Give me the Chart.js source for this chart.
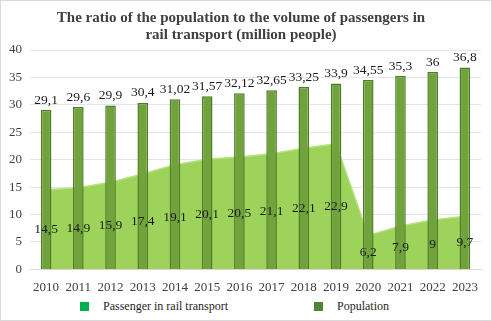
<!DOCTYPE html>
<html>
<head>
<meta charset="utf-8">
<script src="https://cdn.jsdelivr.net/npm/chart.js@4"></script>
<style>
  html, body { margin: 0; padding: 0; background: #fff; }
  #wrap { position: relative; width: 490px; height: 319px; border: 1px solid #d9d9d9; }
  #legend { position: absolute; left: 0; top: 298px; width: 490px; height: 16px;
            font: 12px "Times New Roman", "Liberation Serif", "DejaVu Serif", serif; color: #262626; }
  .item { position: absolute; top: 0; display: flex; align-items: center; }
  .box { width: 9px; height: 9px; margin-right: 14px; }
</style>
</head>
<body>
<div id="wrap">
  <canvas id="chart" width="490" height="296"></canvas>
  <div id="legend">
    <div class="item" style="left:79px"><span class="box" style="background:#00b050"></span>Passenger in rail transport</div>
    <div class="item" style="left:313px"><span class="box" style="background:#548235"></span>Population</div>
  </div>
</div>
<script>
const years = ['2010', '2011', '2012', '2013', '2014', '2015', '2016', '2017', '2018', '2019', '2020', '2021', '2022', '2023'];
const passengers = [14.5, 14.9, 15.9, 17.4, 19.1, 20.1, 20.5, 21.1, 22.1, 22.9, 6.2, 7.9, 9, 9.7];
const population = [29.1, 29.6, 29.9, 30.4, 31.02, 31.57, 32.12, 32.65, 33.25, 33.9, 34.55, 35.3, 36, 36.8];

const serif = '"Times New Roman", "Liberation Serif", "DejaVu Serif", serif';

// comma decimals like the original
const fmt = v => String(v).replace('.', ',');

// draws value labels: population above bars, passengers in the middle of the area
const valueLabels = {
    id: 'valueLabels',
    afterDatasetsDraw(chart) {
        const ctx = chart.ctx;
        const y = chart.scales.y;
        ctx.save();
        ctx.font = '13.5px ' + serif;
        ctx.fillStyle = '#1a1a1a';
        ctx.textAlign = 'center';
        chart.getDatasetMeta(1).data.forEach((bar, i) => {
            ctx.textBaseline = 'bottom';
            ctx.fillText(fmt(population[i]), bar.x, bar.y - 3);
        });
        chart.getDatasetMeta(0).data.forEach((pt, i) => {
            ctx.textBaseline = 'middle';
            ctx.fillText(fmt(passengers[i]), pt.x, y.getPixelForValue(passengers[i] / 2));
        });
        ctx.restore();
    }
};

new Chart(document.getElementById('chart'), {
    type: 'bar',
    data: {
        labels: years,
        datasets: [{
            type: 'line',
            label: 'Passenger in rail transport',
            data: passengers,
            fill: 'origin',
            backgroundColor: '#9dd35a',
            borderColor: '#b5e27a',
            borderWidth: 1.5,
            pointRadius: 0,
            tension: 0,
            order: 2
        }, {
            label: 'Population',
            data: population,
            backgroundColor: '#71a33d',
            borderColor: '#4f7d2a',
            borderWidth: 1.5,
            barPercentage: 0.6,
            categoryPercentage: 0.55,
            order: 1
        }]
    },
    options: {
        responsive: false,
        animation: false,
        layout: { padding: { left: 0, right: 10, top: 5, bottom: 0 } },
        plugins: {
            legend: { display: false },
            tooltip: { enabled: false },
            title: {
                display: true,
                text: ['The ratio of the population to the volume of passengers in', 'rail transport (million people)'],
                color: '#404040',
                font: { family: serif, size: 15, weight: 'bold', lineHeight: 1.1 },
                padding: { top: 4, bottom: 7 }
            }
        },
        scales: {
            x: {
                grid: { display: false },
                border: { color: '#d9d9d9' },
                ticks: { color: '#404040', font: { family: serif, size: 13 }, maxRotation: 0, autoSkip: false, padding: 2 }
            },
            y: {
                min: 0,
                max: 40,
                ticks: { stepSize: 5, color: '#404040', font: { family: serif, size: 13 }, padding: 8 },
                grid: { color: '#e4e4e4', drawTicks: false },
                border: { display: false }
            }
        }
    },
    plugins: [valueLabels]
});
</script>
</body>
</html>
